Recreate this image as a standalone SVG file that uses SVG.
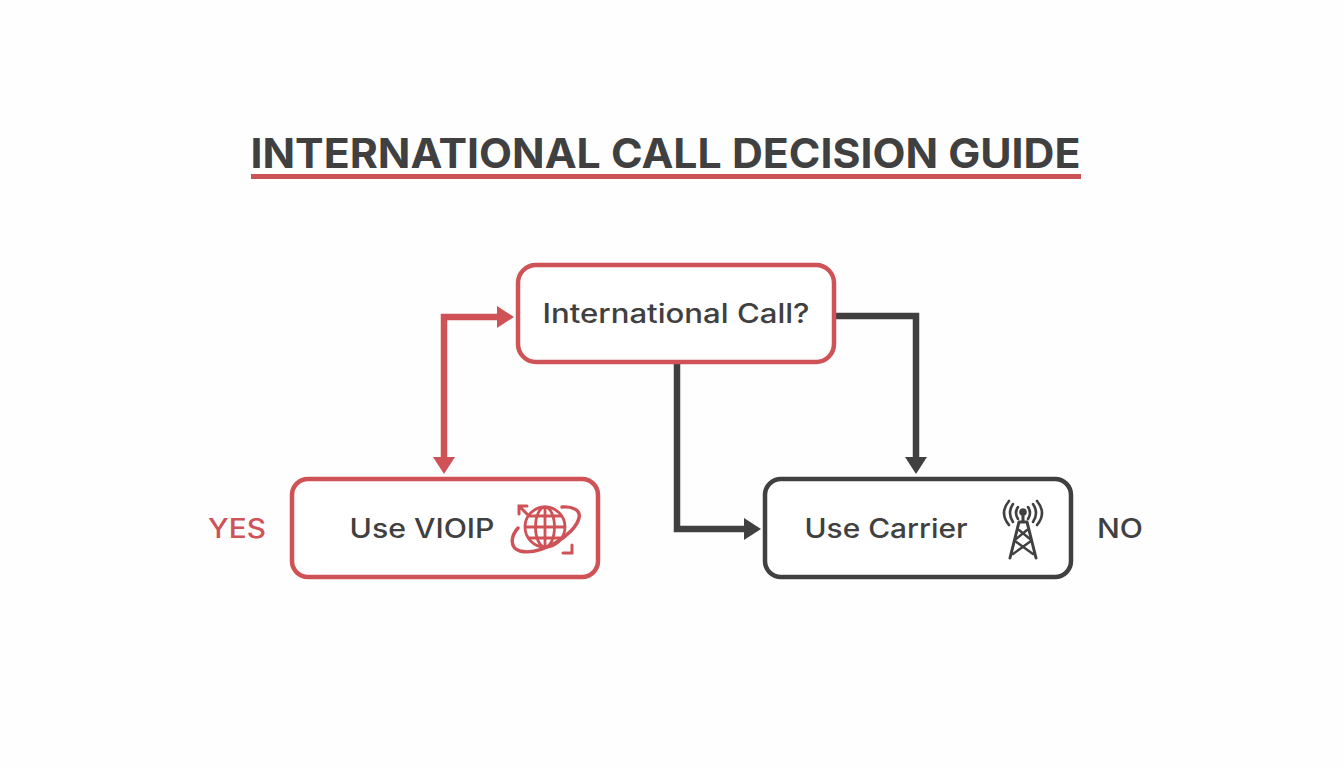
<svg xmlns="http://www.w3.org/2000/svg" width="1344" height="768" viewBox="0 0 1344 768">
<style>
text{font-family:"Inter","Open Sans",sans-serif;fill:#404040}
.lbl{font-size:26.500px;font-weight:500;text-anchor:middle}
.red{stroke:#cf5257;fill:none}
.dk{stroke:#404040;fill:none}
.box{fill:#fff;stroke-width:4.500}
.conn{stroke-width:6.500;stroke-linejoin:miter}
</style>
<defs>
<marker id="ar" markerUnits="userSpaceOnUse" markerWidth="17" markerHeight="22" refX="8" refY="11" orient="auto-start-reverse"><path d="M0 0L17 11L0 22Z" fill="#cf5257"/></marker>
<marker id="ad" markerUnits="userSpaceOnUse" markerWidth="17" markerHeight="22" refX="8" refY="11" orient="auto"><path d="M0 0L17 11L0 22Z" fill="#404040"/></marker>
</defs>
<rect width="1344" height="768" fill="#fefefe"/>
<g id="title">
<text x="665.500" y="168" text-anchor="middle" style="font-size:41px;font-weight:700" textLength="830" lengthAdjust="spacingAndGlyphs">INTERNATIONAL CALL DECISION GUIDE</text>
<rect x="251" y="174" width="830" height="5" fill="#cb5257"/>
</g>
<g id="connectors">
<path class="red conn" d="M444 465V317H505" marker-start="url(#ar)" marker-end="url(#ar)"/>
<path class="dk conn" d="M836 316H916V465" marker-end="url(#ad)"/>
<path class="dk conn" d="M677 362V529H752" marker-end="url(#ad)"/>
</g>
<g id="node-question">
<rect class="red box" x="518" y="265" width="316" height="97" rx="18"/>
<text x="676" y="323" class="lbl" textLength="267" lengthAdjust="spacingAndGlyphs">International Call?</text>
</g>
<g id="node-voip">
<rect class="red box" x="292" y="479" width="306" height="98" rx="16"/>
<text x="422" y="538" class="lbl" textLength="145" lengthAdjust="spacingAndGlyphs">Use VIOIP</text>
<g id="icon-globe" fill="none" stroke="#cf5257" stroke-width="2.800">
<circle cx="545" cy="527" r="20"/>
<ellipse cx="545" cy="527" rx="9.500" ry="20"/>
<path d="M545 507V547M525 527H565M529 516H561M529 538H561"/>
<path d="M518 528C510 537 510 548 520 551C540 556 575 535 579 518C581 510 572 506 562 507" stroke-width="3.400" stroke-linecap="round"/>
<path d="M519 506L528 515M519 514V506H527M572 545V553H563" stroke-width="3" stroke-linecap="round"/>
</g>
</g>
<g id="node-carrier">
<rect class="dk box" x="765" y="479" width="306" height="98" rx="16"/>
<text x="886" y="538" class="lbl" textLength="163" lengthAdjust="spacingAndGlyphs">Use Carrier</text>
<g id="icon-tower" fill="none" stroke="#404040" stroke-width="2.600" stroke-linecap="round">
<circle cx="1023" cy="512" r="2.500" fill="#404040"/>
<path d="M1023 515V522M1019 522H1027L1036 558M1019 522L1010 558" stroke-width="3"/>
<path d="M1019 530L1030 539M1027 530L1016 539M1015 541L1033 554M1031 541L1013 554" stroke-width="2.400"/>
<path d="M1018 507Q1014 513 1018 519M1028 507Q1032 513 1028 519M1013 504Q1007 513 1013 522M1033 504Q1039 513 1033 522M1009 501Q999 513 1009 525M1037 501Q1047 513 1037 525"/>
</g>
</g>
<g id="label-yes"><text x="237" y="538" class="lbl" style="fill:#cf5257" textLength="58" lengthAdjust="spacingAndGlyphs">YES</text></g>
<g id="label-no"><text x="1120" y="538" class="lbl" textLength="46" lengthAdjust="spacingAndGlyphs">NO</text></g>
</svg>
